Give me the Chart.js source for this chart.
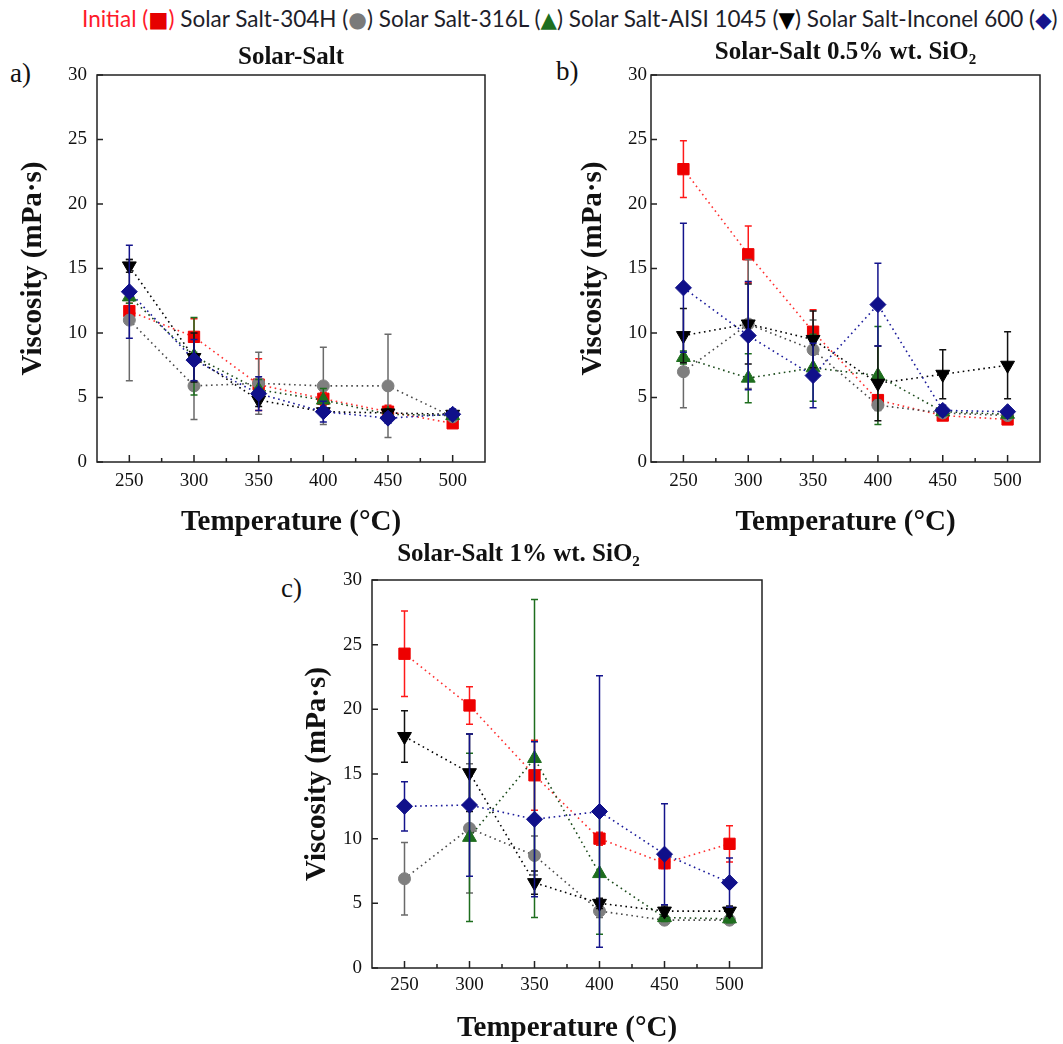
<!DOCTYPE html>
<html><head><meta charset="utf-8">
<script src="https://cdn.jsdelivr.net/npm/chart.js@4.4.1/dist/chart.umd.min.js"></script>
<style>
html,body{margin:0;padding:0;background:#fff;width:1063px;height:1044px;overflow:hidden;position:relative}
canvas{position:absolute}
#legend{position:absolute;left:82px;top:5px;font-family:Lato,'Open Sans',sans-serif;font-size:21px;line-height:28px;white-space:nowrap;color:#1e1e2a}
#legend .sym{font-family:'DejaVu Sans',sans-serif;font-size:0.95em}
.pl{position:absolute;font-family:'Liberation Serif',serif;font-size:27px;line-height:27px;color:#111}
</style></head><body>
<div id="legend"><span style="color:#ff1a2a">Initial (<span class="sym" style="color:#e60000">■</span>)</span> Solar Salt-304H (<span class="sym" style="color:#7a7a7a">●</span>) Solar Salt-316L (<span class="sym" style="color:#1e6e1e">▲</span>) Solar Salt-AISI 1045 (<span class="sym" style="color:#000">▼</span>) Solar Salt-Inconel 600 (<span class="sym" style="color:#14148c">◆</span>)</div>
<div class="pl" style="left:10px;top:60px">a)</div>
<div class="pl" style="left:556px;top:58px">b)</div>
<div class="pl" style="left:281px;top:575px">c)</div>
<canvas id="ca" width="505" height="515" style="left:0px;top:30px;width:505px;height:515px"></canvas>
<canvas id="cb" width="505" height="515" style="left:555px;top:30px;width:505px;height:515px"></canvas>
<canvas id="cc" width="558" height="512" style="left:275px;top:535px;width:558px;height:512px"></canvas>
<script>
// ---------- data ----------
const temperatures = [250, 300, 350, 400, 450, 500];
const xTickValues = [250, 300, 350, 400, 450, 500];
const xMinorTickValues = [275, 325, 375, 425, 475];
const yTickValues = [0, 5, 10, 15, 20, 25, 30];
const seriesNames = ['Initial', 'Solar Salt-304H', 'Solar Salt-316L', 'Solar Salt-AISI 1045', 'Solar Salt-Inconel 600'];
const panelTitles = ['Solar-Salt', 'Solar-Salt 0.5% wt. SiO\u2082', 'Solar-Salt 1% wt. SiO\u2082'];
const xAxisTitle = 'Temperature (\u00B0C)';
const yAxisTitle = 'Viscosity (mPa\u00B7s)';

// Panel a: Solar-Salt
const aInitial = [11.7, 9.7, 6.0, 4.9, 3.9, 3.0];
const aInitialErr = [0.6, 1.4, 2.0, 0.5, 0.5, 0.3];
const a304H = [11.0, 5.9, 6.1, 5.9, 5.9, 3.5];
const a304HErr = [4.7, 2.6, 2.4, 3.0, 4.0, 0.3];
const a316L = [12.8, 8.2, 5.6, 4.8, 3.7, 3.6];
const a316LErr = [0.5, 3.0, 0.8, 0.9, 0.4, 0.3];
const aAISI = [15.2, 8.1, 4.8, 3.9, 3.8, 3.7];
const aAISIErr = [0.5, 1.9, 0.5, 0.3, 0.3, 0.3];
const aInconel = [13.2, 7.9, 5.3, 3.9, 3.4, 3.7];
const aInconelErr = [3.6, 1.6, 1.3, 0.8, 0.4, 0.4];

// Panel b: Solar-Salt 0.5% wt. SiO2
const bInitial = [22.7, 16.1, 10.1, 4.8, 3.6, 3.3];
const bInitialErr = [2.2, 2.2, 1.7, 0.3, 0.3, 0.3];
const b304H = [7.0, 10.7, 8.7, 4.4, 3.8, 3.6];
const b304HErr = [2.8, 5.0, 2.3, 0.4, 0.3, 0.3];
const b316L = [8.1, 6.5, 7.3, 6.7, 3.9, 3.7];
const b316LErr = [0.5, 1.9, 2.6, 3.8, 0.3, 0.3];
const bAISI = [9.8, 10.7, 9.5, 6.1, 6.8, 7.5];
const bAISIErr = [2.1, 3.1, 2.2, 2.9, 1.9, 2.6];
const bInconel = [13.5, 9.8, 6.7, 12.2, 4.0, 3.9];
const bInconelErr = [5.0, 4.2, 2.5, 3.2, 0.4, 0.3];

// Panel c: Solar-Salt 1% wt. SiO2
const cInitial = [24.3, 20.3, 14.9, 10.0, 8.1, 9.6];
const cInitialErr = [3.3, 1.45, 2.7, 0.5, 0.4, 1.4];
const c304H = [6.9, 10.8, 8.7, 4.4, 3.7, 3.7];
const c304HErr = [2.8, 5.0, 1.5, 0.5, 0.3, 0.3];
const c316L = [null, 10.1, 16.2, 7.3, 3.9, 3.8];
const c316LErr = [null, 6.5, 12.3, 4.7, 0.3, 0.3];
const cAISI = [17.9, 15.1, 6.6, 5.0, 4.4, 4.4];
const cAISIErr = [2.0, 3.0, 0.9, 0.4, 0.4, 0.4];
const cInconel = [12.5, 12.6, 11.5, 12.1, 8.8, 6.6];
const cInconelErr = [1.9, 5.5, 6.0, 10.5, 3.9, 1.9];

// ---------- styles ----------
const styles = [
  {fill:'#ee0000', line:'#ff3030', err:'#ff1a1a', shape:'rect', r:8, rot:0, order:5},
  {fill:'#7f7f7f', line:'#4a4a4a', err:'#6a6a6a', shape:'circle', r:6, rot:0, order:4},
  {fill:'#1e6e1e', line:'#1a4a1a', err:'#1e6e1e', shape:'triangle', r:8, rot:0, order:3},
  {fill:'#000000', line:'#000000', err:'#111111', shape:'triangle', r:8, rot:180, order:2},
  {fill:'#10108a', line:'#1a1a9a', err:'#14148c', shape:'rectRot', r:8, rot:0, order:1}
];
const serif = "'Liberation Serif', 'Times New Roman', serif";

function makeDatasets(vals, errs) {
  return vals.map((v, k) => {
    const s = styles[k];
    return {
      label: seriesNames[k],
      data: temperatures.map((t, i) => ({x: t, y: v[i]})),
      errors: errs[k],
      errorColor: s.err,
      borderColor: s.line,
      borderWidth: 1.6,
      borderDash: [1.6, 3.6],
      pointStyle: s.shape,
      pointRadius: s.r,
      pointRotation: s.rot,
      pointBackgroundColor: s.fill,
      pointBorderColor: s.fill,
      pointBorderWidth: 1,
      order: s.order,
      tension: 0,
      fill: false,
      spanGaps: false
    };
  });
}

const errorBarPlugin = {
  id: 'errorBars',
  beforeDatasetDraw(chart, args) {
    const ds = chart.data.datasets[args.index];
    if (!ds.errors) return;
    const {ctx, scales: {x, y}} = chart;
    ctx.save();
    ctx.strokeStyle = ds.errorColor;
    ctx.lineWidth = 1.5;
    ds.data.forEach((p, j) => {
      const e = ds.errors[j];
      if (p.y == null || e == null) return;
      const px = x.getPixelForValue(p.x);
      const t = y.getPixelForValue(p.y + e);
      const b = y.getPixelForValue(p.y - e);
      ctx.beginPath();
      ctx.moveTo(px, t); ctx.lineTo(px, b);
      ctx.moveTo(px - 3.5, t); ctx.lineTo(px + 3.5, t);
      ctx.moveTo(px - 3.5, b); ctx.lineTo(px + 3.5, b);
      ctx.stroke();
    });
    ctx.restore();
  }
};

const framePlugin = {
  id: 'frame',
  afterDraw(chart) {
    const {ctx, chartArea: a, scales: {x, y}} = chart;
    ctx.save();
    ctx.strokeStyle = '#222';
    ctx.lineWidth = 1.5;
    ctx.strokeRect(a.left, a.top, a.right - a.left, a.bottom - a.top);
    ctx.beginPath();
    xTickValues.forEach(v => { const px = x.getPixelForValue(v); ctx.moveTo(px, a.bottom); ctx.lineTo(px, a.bottom - 7); });
    xMinorTickValues.forEach(v => { const px = x.getPixelForValue(v); ctx.moveTo(px, a.bottom); ctx.lineTo(px, a.bottom - 4); });
    yTickValues.forEach(v => { const py = y.getPixelForValue(v); ctx.moveTo(a.left, py); ctx.lineTo(a.left + 6, py); });
    ctx.stroke();
    ctx.restore();
  }
};

function makeChart(id, vals, errs, cfg) {
  return new Chart(document.getElementById(id), {
    type: 'line',
    data: {datasets: makeDatasets(vals, errs)},
    plugins: [errorBarPlugin, framePlugin],
    options: {
      responsive: false,
      animation: false,
      layout: {padding: {left: 0, right: cfg.padRight, top: 0, bottom: 0}},
      plugins: {
        legend: {display: false},
        tooltip: {enabled: false},
        title: {
          display: true, text: cfg.title, fullSize: cfg.fullSize,
          font: {family: serif, size: 25, weight: 'bold'}, color: '#111',
          padding: {top: cfg.titleTop, bottom: cfg.titleBottom}
        }
      },
      scales: {
        x: {
          type: 'linear', min: 225, max: 525,
          afterBuildTicks: s => { s.ticks = xTickValues.map(v => ({value: v})); },
          afterFit: s => { s.height = cfg.xHeight; },
          grid: {display: false, drawTicks: false},
          border: {display: false},
          ticks: {font: {family: serif, size: 19}, color: '#111', padding: cfg.xTickPad, maxRotation: 0, autoSkip: false},
          title: {display: true, text: xAxisTitle, font: {family: serif, size: 29, weight: 'bold'}, color: '#111', padding: {top: 0, bottom: cfg.xTitlePad}}
        },
        y: {
          type: 'linear', min: 0, max: 30,
          afterBuildTicks: s => { s.ticks = yTickValues.map(v => ({value: v})); },
          afterFit: s => { s.width = cfg.yWidth; },
          grid: {display: false, drawTicks: false},
          border: {display: false},
          ticks: {font: {family: serif, size: 19}, color: '#111', padding: cfg.yTickPad},
          title: {display: true, text: yAxisTitle, font: {family: serif, size: 29, weight: 'bold'}, color: '#111', padding: {top: cfg.yTitlePad, bottom: 0}}
        }
      }
    }
  });
}

makeChart('ca', [aInitial, a304H, a316L, aAISI, aInconel], [aInitialErr, a304HErr, a316LErr, aAISIErr, aInconelErr],
  {title: panelTitles[0], fullSize: false, padRight: 20, titleTop: 13, titleBottom: 2, xHeight: 83, xTickPad: 8, xTitlePad: 5, yWidth: 97, yTickPad: 10, yTitlePad: 16});
makeChart('cb', [bInitial, b304H, b316L, bAISI, bInconel], [bInitialErr, b304HErr, b316LErr, bAISIErr, bInconelErr],
  {title: panelTitles[1], fullSize: false, padRight: 20, titleTop: 8, titleBottom: 7, xHeight: 83, xTickPad: 8, xTitlePad: 5, yWidth: 96, yTickPad: 4, yTitlePad: 21});
makeChart('cc', [cInitial, c304H, c316L, cAISI, cInconel], [cInitialErr, c304HErr, c316LErr, cAISIErr, cInconelErr],
  {title: panelTitles[2], fullSize: true, padRight: 71, titleTop: 5, titleBottom: 10, xHeight: 79, xTickPad: 6, xTitlePad: 1, yWidth: 97, yTickPad: 10, yTitlePad: 25});

// fit legend text width to the reference span
const lg = document.getElementById('legend');
const w = lg.getBoundingClientRect().width;
lg.style.fontSize = (21 * 976 / w).toFixed(2) + 'px';
</script>
</body></html>
